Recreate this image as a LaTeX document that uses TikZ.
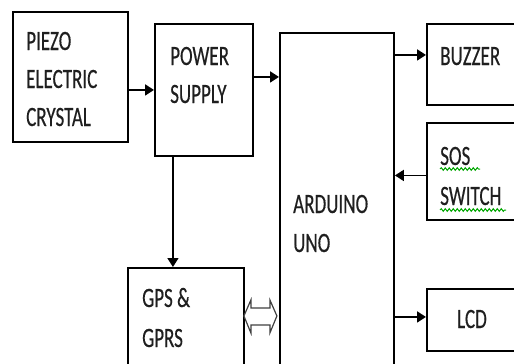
\documentclass[tikz,border=0pt]{standalone}
\usepackage{fontspec}
\setmainfont[FakeStretch=0.68,FakeBold=0.4]{Carlito}
\usetikzlibrary{arrows.meta,decorations.pathmorphing,calc}
\begin{document}
\begin{tikzpicture}[x=1pt,y=-1pt,
 box/.style={draw,line width=1.9pt,rectangle,inner sep=0pt,anchor=north west},
 lbl/.style={anchor=base west,inner sep=0pt,font=\fontsize{28}{34}\selectfont,text=black!88},
 arr/.style={line width=1.9pt,-{Triangle[length=9pt,width=11pt]}},
 dbl/.style={draw=black!75,line width=1.2pt,fill=white},
 wavy/.style={draw=green!65!black,line width=1pt,decorate,decoration={snake,amplitude=1.3pt,segment length=4pt}}]
\useasboundingbox (0,0) rectangle (514,364);
\clip (0,0) rectangle (514,364);
% boxes
\node[box,minimum width=115pt,minimum height=130pt] (piezo) at (12,11) {};
\node[box,minimum width=98pt,minimum height=132pt] (power) at (154,23) {};
\node[box,minimum width=114pt,minimum height=360pt] (arduino) at (279,32) {};
\node[box,minimum width=110pt,minimum height=81pt] (buzzer) at (426,23) {};
\node[box,minimum width=110pt,minimum height=97pt] (sos) at (426,122) {};
\node[box,minimum width=110pt,minimum height=62pt] (lcd) at (426,288) {};
\node[box,minimum width=116pt,minimum height=120pt] (gps) at (127,267) {};
% labels
\node[lbl] (t1) at (26,50) {PIEZO};
\node[lbl] (t2) at (26,88) {ELECTRIC};
\node[lbl] (t3) at (26,126) {CRYSTAL};
\node[lbl] (t4) at (170,65) {POWER};
\node[lbl] (t5) at (170,103) {SUPPLY};
\node[lbl] (t6) at (440,65) {BUZZER};
\node[lbl] (t7) at (440,165) {SOS};
\node[lbl] (t8) at (440,205) {SWITCH};
\node[lbl] (t9) at (293,213) {ARDUINO};
\node[lbl] (t10) at (293,252) {UNO};
\node[lbl] (t11) at (142,307) {GPS \&};
\node[lbl] (t12) at (142,347) {GPRS};
\node[lbl] (t13) at (457,328) {LCD};
% spell-check underlines
\draw[wavy] (440,169) -- (480,169);
\draw[wavy] (440,210) -- (506,210);
% connectors
\coordinate (p1) at ([yshift=13pt]power.east);
\coordinate (b1) at ([yshift=9.5pt]buzzer.west);
\coordinate (s1) at ([yshift=-4pt]sos.west);
\coordinate (l1) at ([yshift=3pt]lcd.west);
\coordinate (v1) at ([xshift=-31pt]power.south);
\coordinate (d1) at ([yshift=12pt]gps.east);
\draw[arr] (piezo.east |- power.west) -- (power.west);
\draw[arr] (p1) -- (p1 -| arduino.west);
\draw[arr] (b1 -| arduino.east) -- (b1);
\draw[arr] (s1) -- (s1 -| arduino.east);
\draw[arr] (l1 -| arduino.east) -- (l1);
\draw[arr,line width=1.5pt] (v1) -- (v1 |- gps.north);
\draw[dbl] ([xshift=-1pt]d1) -- ++(7,-16) -- ++(0,8) -- ++(19,0) -- ++(0,-8) -- ++(7,16) -- ++(-7,17) -- ++(0,-8) -- ++(-19,0) -- ++(0,8) -- cycle;
\end{tikzpicture}
\end{document}
